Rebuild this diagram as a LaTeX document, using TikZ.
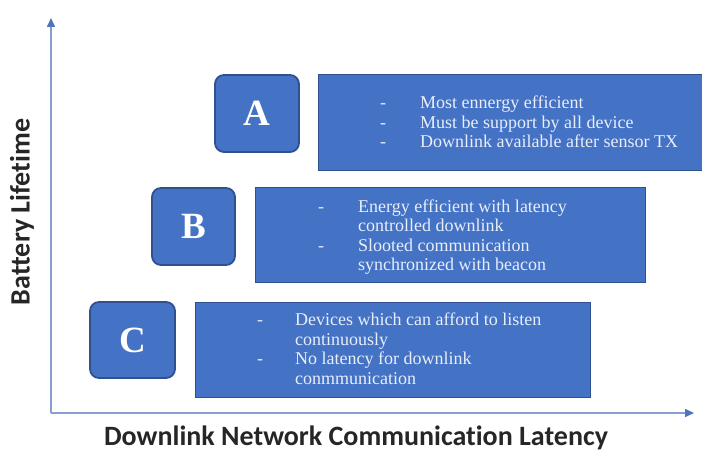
\documentclass[tikz,border=0pt]{standalone}
\usepackage{fontspec}
\setmainfont{Liberation Serif}
\newfontfamily\axisfont[Ligatures=NoCommon]{Carlito}
\usetikzlibrary{arrows.meta}

\definecolor{tileblue}{RGB}{68,114,196}
\definecolor{tileedge}{RGB}{47,82,143}
\definecolor{axisblue}{RGB}{135,158,208}
\definecolor{arrowblue}{RGB}{80,115,190}
\definecolor{notetext}{RGB}{232,238,250}

\begin{document}
\begin{tikzpicture}[x=1pt,y=-1pt,
  tile/.style={draw=tileedge, line width=1.8pt, fill=tileblue, rounded corners=9pt,
    inner sep=0pt, text=white, font=\fontsize{37}{37}\selectfont\bfseries},
  panel/.style={draw=tileedge, line width=0.8pt, fill=tileblue, inner sep=0pt},
  notes/.style={inner sep=0pt, anchor=base west, text=notetext,
    font=\fontsize{18}{19.6}\selectfont},
  axisline/.style={draw=axisblue, line width=1.6pt,
    -{Triangle[width=8pt,length=9pt,color=arrowblue]}},
  axislabel/.style={inner sep=0pt, text=black!85, font=\axisfont\bfseries\fontsize{28}{30}\selectfont}
]
\useasboundingbox (0,0) rectangle (702,452);

% axes
\coordinate (origin) at (51,413);
\coordinate (ytip) at (51,18);
\coordinate (xtip) at (694,413);
\draw[axisline] (origin) -- (ytip);
\draw[axisline] (origin) -- (xtip);
\node[axislabel, rotate=90] (ylab) at (22,212) {Battery Lifetime};
\node[axislabel] (xlab) at (356,438) {Downlink Network Communication Latency};

% class A
\node[panel, minimum width=386pt, minimum height=96pt] (pa) at (511,122) {};
\node[tile, minimum width=84pt, minimum height=77pt] (ta) at (257,113.5) {A};
\node[notes] (na) at (380,108.5) {\begin{tabular}[t]{@{}l@{\hspace{34pt}}l@{}}
- & Most ennergy efficient\\
- & Must be support by all device\\
- & Downlink available after sensor TX
\end{tabular}};

% class B
\node[panel, minimum width=390pt, minimum height=95pt] (pb) at (450,234.5) {};
\node[tile, minimum width=83pt, minimum height=77pt] (tb) at (193.5,226.5) {B};
\node[notes] (nb) at (318,212) {\begin{tabular}[t]{@{}l@{\hspace{34pt}}l@{}}
- & Energy efficient with latency\\
  & controlled downlink\\
- & Slooted communication\\
  & synchronized with beacon
\end{tabular}};

% class C
\node[panel, minimum width=395pt, minimum height=95pt] (pc) at (392.5,349.5) {};
\node[tile, minimum width=85pt, minimum height=76pt] (tc) at (132.5,340) {C};
\node[notes] (nc) at (257,325.5) {\begin{tabular}[t]{@{}l@{\hspace{32pt}}l@{}}
- & Devices which can afford to listen\\
  & continuously\\
- & No latency for downlink\\
  & conmmunication
\end{tabular}};
\end{tikzpicture}
\end{document}
